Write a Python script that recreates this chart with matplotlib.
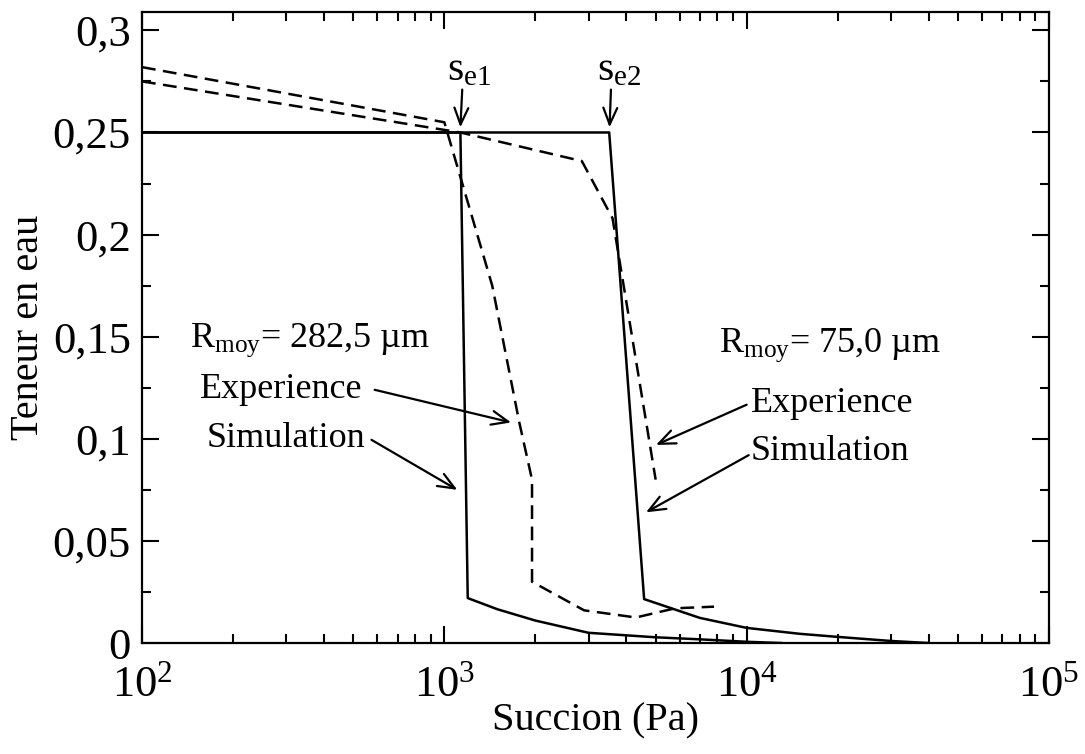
import numpy as np
import matplotlib
matplotlib.use("Agg")
import matplotlib.pyplot as plt
from matplotlib.ticker import FixedLocator, FuncFormatter, LogLocator

plt.rcParams['font.family'] = ['Liberation Serif', 'DejaVu Serif']
plt.rcParams['mathtext.fontset'] = 'custom'
plt.rcParams['mathtext.rm'] = 'Liberation Serif'
plt.rcParams['mathtext.it'] = 'Liberation Serif:italic'

# simulation curves (solid)
sim1_x = [100, 1130, 1195, 1500, 2000, 3000, 5000, 7000, 10000, 13000]
sim1_y = [0.25, 0.25, 0.022, 0.0165, 0.011, 0.005, 0.0028, 0.0018, 0.0006, 0.0]
sim2_x = [100, 3510, 4580, 7000, 10000, 15000, 20000, 30000, 40000]
sim2_y = [0.25, 0.25, 0.0215, 0.0123, 0.0074, 0.0045, 0.003, 0.001, 0.0]

# experience curves (dashed)
exp1_x = [100, 1000, 1440, 1770, 1950, 1950, 2900, 4300, 5800, 7800]
exp1_y = [0.282, 0.255, 0.175, 0.108, 0.08, 0.03, 0.016, 0.0125, 0.017, 0.0178]
exp2_x = [100, 1130, 2850, 3600, 5000]
exp2_y = [0.275, 0.25, 0.236, 0.208, 0.08]

y_ticks = [0, 0.05, 0.1, 0.15, 0.2, 0.25, 0.3]
y_labels = ["0", "0,05", "0,1", "0,15", "0,2", "0,25", "0,3"]

fig = plt.figure(figsize=(10.85, 7.54), dpi=100)
ax = fig.add_axes([0.1309, 0.1472, 0.8359, 0.8369])

lw = 1.8
ax.plot(sim1_x, sim1_y, color='black', lw=lw)
ax.plot(sim2_x, sim2_y, color='black', lw=lw)
ax.plot(exp1_x, exp1_y, color='black', lw=lw, dashes=(5.5, 3))
ax.plot(exp2_x, exp2_y, color='black', lw=lw, dashes=(5.5, 3))

ax.set_xscale('log')
ax.set_xlim(100, 1e5)
ax.set_ylim(0, 0.309)

# ticks
ax.xaxis.set_major_locator(LogLocator(base=10, numticks=10))
ax.xaxis.set_minor_locator(LogLocator(base=10, subs=np.arange(2, 10), numticks=20))
ax.xaxis.set_major_formatter(FuncFormatter(lambda v, p: r'$\mathregular{10^{%d}}$' % round(np.log10(v))))
ax.yaxis.set_major_locator(FixedLocator(y_ticks))
ax.yaxis.set_minor_locator(FixedLocator(np.arange(0.025, 0.31, 0.05)))
ax.set_yticklabels(y_labels)
ax.tick_params(which='both', direction='in', top=True, right=True, width=1.5)
ax.tick_params(which='major', length=12, labelsize=32, pad=8)
ax.tick_params(axis='x', which='major', pad=16)
ax.tick_params(which='minor', length=6.5)
for s in ax.spines.values():
    s.set_linewidth(1.6)

ax.set_xlabel("Succion (Pa)", fontsize=29, labelpad=-2)
ax.set_ylabel("Teneur en eau", fontsize=29, labelpad=4)

# s_e labels with arrows
arr = dict(arrowstyle='->,head_length=0.6,head_width=0.25', lw=1.6, color='black',
           shrinkA=0, shrinkB=0, mutation_scale=20)
ax.text(1024, 0.271, r'$\mathregular{s_{e1}}$', fontsize=30, ha='left', va='bottom')
ax.annotate('', xy=(1130, 0.2525), xytext=(1146, 0.271), arrowprops=arr)
ax.text(3200, 0.271, r'$\mathregular{s_{e2}}$', fontsize=30, ha='left', va='bottom')
ax.annotate('', xy=(3520, 0.2525), xytext=(3557, 0.271), arrowprops=arr)

# left texts
ax.text(144, 0.145, r'$\mathregular{R_{moy}}$= 282,5 µm', fontsize=26, va='baseline')
ax.text(155, 0.120, "Experience", fontsize=26, va='baseline')
ax.text(164, 0.096, "Simulation", fontsize=26, va='baseline')
ax.annotate('', xy=(1663, 0.108), xytext=(588, 0.124), arrowprops=arr)
ax.annotate('', xy=(1104, 0.075), xytext=(574, 0.0995), arrowprops=arr)

# right texts
ax.text(8090, 0.1426, r'$\mathregular{R_{moy}}$= 75,0 µm', fontsize=26, va='baseline')
ax.text(10300, 0.113, "Experience", fontsize=26, va='baseline')
ax.text(10300, 0.0897, "Simulation", fontsize=26, va='baseline')
ax.annotate('', xy=(5010, 0.097), xytext=(10000, 0.1167), arrowprops=arr)
ax.annotate('', xy=(4645, 0.064), xytext=(10160, 0.092), arrowprops=arr)

plt.savefig("out.png", dpi=100)
